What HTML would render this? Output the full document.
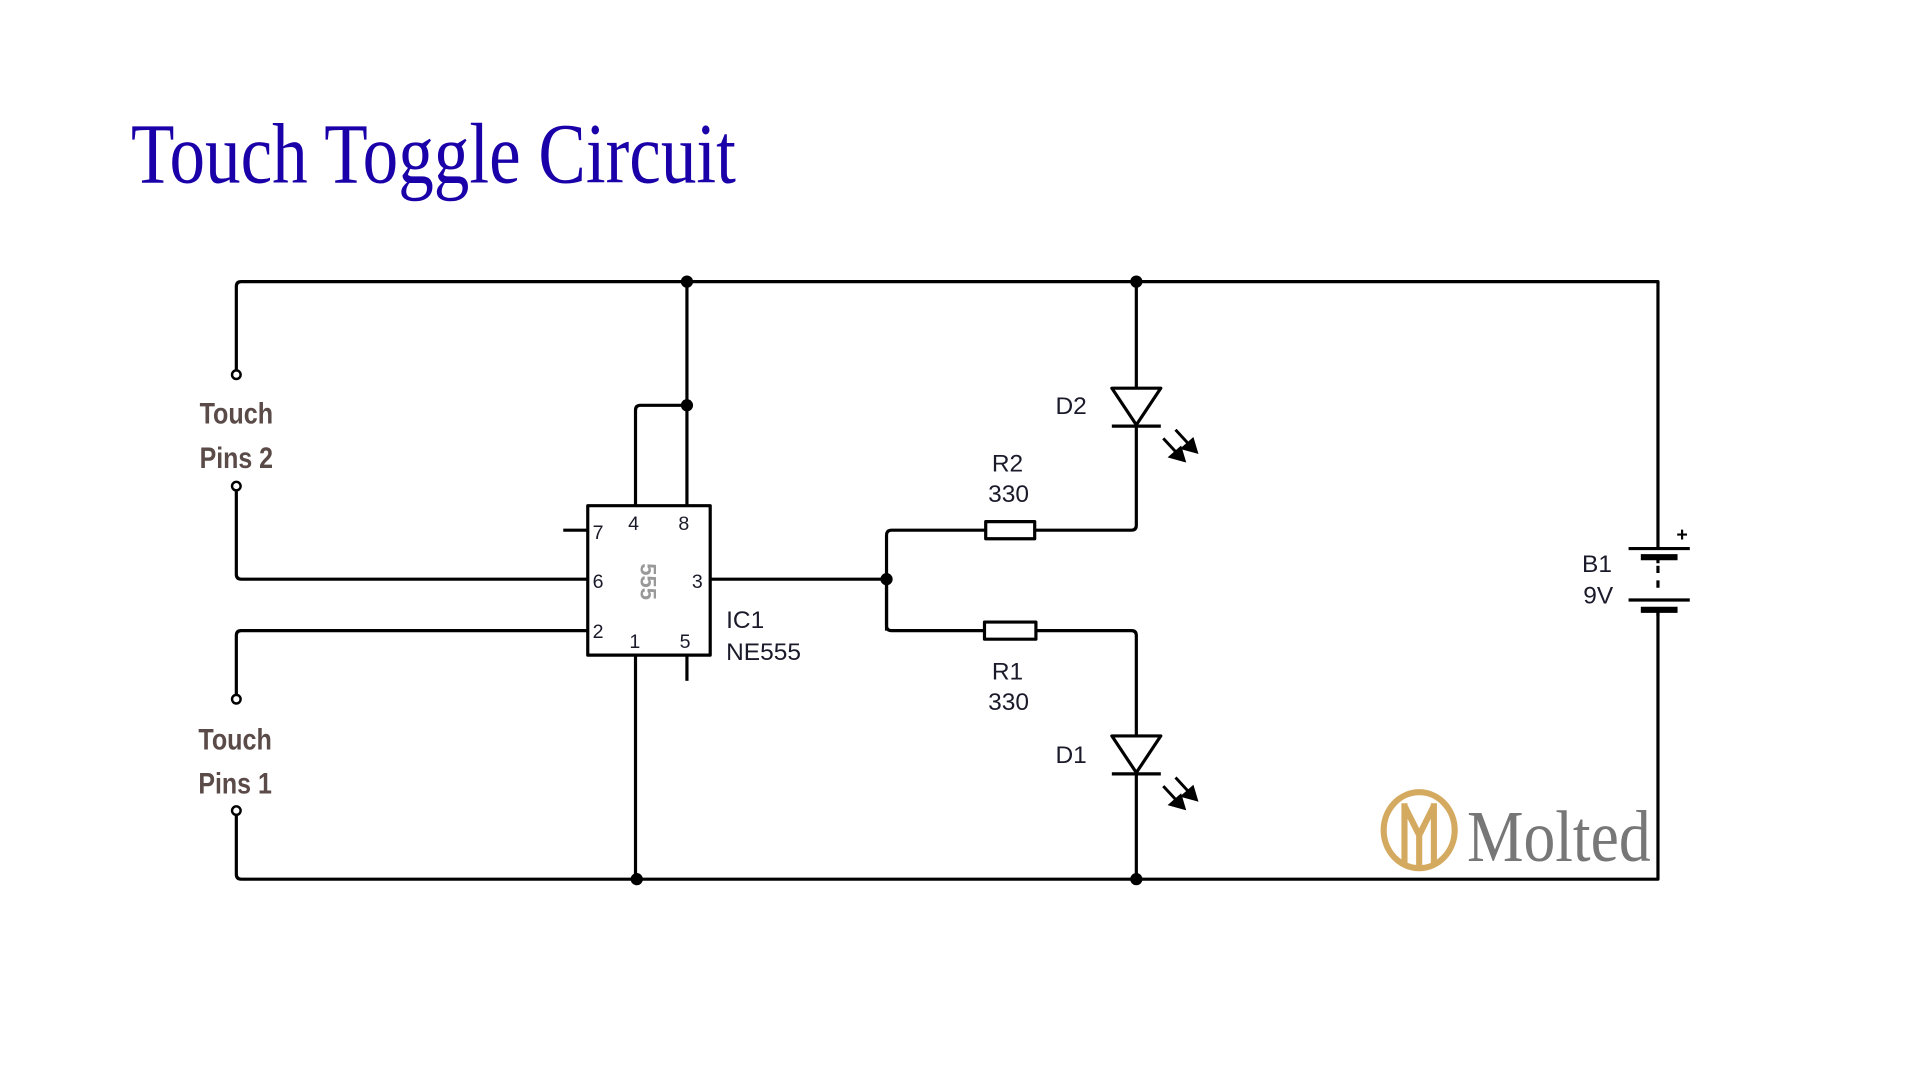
<!DOCTYPE html>
<html><head><meta charset="utf-8"><style>
html,body{margin:0;padding:0;background:#fff;width:1920px;height:1080px;overflow:hidden}
svg{display:block}
</style></head><body>
<svg width="1920" height="1080" viewBox="0 0 1568 882" preserveAspectRatio="none" xmlns="http://www.w3.org/2000/svg">
<text x="107" y="149" font-family="Liberation Serif, serif" font-size="70" fill="#1a00a8" textLength="494" lengthAdjust="spacingAndGlyphs">Touch Toggle Circuit</text>
<g stroke="#000" stroke-width="2.6" fill="none" stroke-linejoin="round">
<path d="M193,306 V234 Q193,230 197,230 H1354 V448"/>
<path d="M561,230 V413"/>
<path d="M519,413 V335 Q519,331 523,331 H561"/>
<rect x="480" y="413" width="100" height="122"/>
<path d="M460,433 H480"/>
<path d="M480,473 H197 Q193,473 193,469 V398"/>
<path d="M480,515 H197 Q193,515 193,519 V571"/>
<path d="M519,535 V718"/>
<path d="M561,535 V556"/>
<path d="M193,662 V714 Q193,718 197,718 H1354 V498"/>
<path d="M580,473 H724"/>
<path d="M724,515 V437 Q724,433 728,433 H805"/>
<path d="M724,473 V511 Q724,515 728,515 H804"/>
<rect x="805" y="426" width="40" height="14"/>
<rect x="804" y="508" width="42" height="14"/>
<path d="M845,433 H924 Q928,433 928,429 V348"/>
<path d="M928,317 V230"/>
<path d="M846,515 H924 Q928,515 928,519 V600"/>
<path d="M928,632 V718"/>
<path d="M908,317 H948 L928,347 Z"/>
<path d="M908,348 H948"/>
<path d="M908,601 H948 L928,631 Z"/>
<path d="M908,632 H948"/>
<path d="M1330,448 H1380"/>
<path d="M1354,462 V468 M1354,474 V480"/>
<path d="M1330,490 H1380"/>
<path d="M1354,455 V460"/>
<path d="M1354,498 V503"/>
</g>
<g stroke="#000" stroke-width="5">
<path d="M1340,455 H1370"/><path d="M1340,498 H1370"/>
</g>
<text x="1369" y="442" font-family="Liberation Sans, sans-serif" font-size="16" font-weight="bold">+</text>
<g stroke="#000" stroke-width="2.4" fill="#000">
<path d="M950,358 L963,372"/><path d="M960,351 L973,365"/>
<path d="M950,642 L963,656"/><path d="M960,635 L973,649"/>
<path d="M967,376 L956,373 L964,366 Z"/><path d="M977,369 L966,366 L974,359 Z"/>
<path d="M967,660 L956,657 L964,650 Z"/><path d="M977,653 L966,650 L974,643 Z"/>
</g>
<g fill="#000">
<circle cx="561" cy="230" r="5"/><circle cx="928" cy="230" r="5"/>
<circle cx="561" cy="331" r="5"/><circle cx="724" cy="473" r="5"/>
<circle cx="520" cy="718" r="5"/><circle cx="928" cy="718" r="5"/>
</g>
<g fill="#fff" stroke="#000" stroke-width="2">
<circle cx="193" cy="306" r="3.5"/><circle cx="193" cy="397" r="3.5"/>
<circle cx="193" cy="571" r="3.5"/><circle cx="193" cy="662" r="3.5"/>
</g>
<g font-family="Liberation Sans, sans-serif" font-size="20" fill="#1a1a2a">
<text x="862" y="338">D2</text>
<text x="810" y="385">R2</text><text x="807" y="410">330</text>
<text x="810" y="555">R1</text><text x="807" y="580">330</text>
<text x="862" y="623">D1</text>
<text x="593" y="513">IC1</text><text x="593" y="539">NE555</text>
<text x="1292" y="467">B1</text><text x="1293" y="493">9V</text>
</g>
<g font-family="Liberation Sans, sans-serif" font-size="16" fill="#1a1a2a">
<text x="484" y="440">7</text><text x="513" y="433">4</text><text x="554" y="433">8</text>
<text x="484" y="480">6</text><text x="565" y="480">3</text>
<text x="484" y="521">2</text><text x="514" y="529">1</text><text x="555" y="529">5</text>
</g>
<text x="0" y="0" transform="translate(523,460) rotate(90)" font-family="Liberation Sans, sans-serif" font-size="18" font-weight="bold" fill="#999">555</text>
<g font-family="Liberation Sans, sans-serif" font-size="24" font-weight="bold" fill="#5a4a48">
<text x="163" y="346" textLength="60" lengthAdjust="spacingAndGlyphs">Touch</text>
<text x="163" y="382" textLength="60" lengthAdjust="spacingAndGlyphs">Pins 2</text>
<text x="162" y="612" textLength="60" lengthAdjust="spacingAndGlyphs">Touch</text>
<text x="162" y="648" textLength="60" lengthAdjust="spacingAndGlyphs">Pins 1</text>
</g>
<g fill="none" stroke="#d4aa60" stroke-width="5">
<ellipse cx="1159" cy="678" rx="29" ry="31"/>
<path d="M1147,656 V705 M1171,656 V705 M1147,658 L1159,682 L1171,658 M1159,682 V707"/>
</g>
<text x="1198" y="703" font-family="Liberation Serif, serif" font-size="60" fill="#777" textLength="150" lengthAdjust="spacingAndGlyphs">Molted</text>
</svg>
</body></html>
